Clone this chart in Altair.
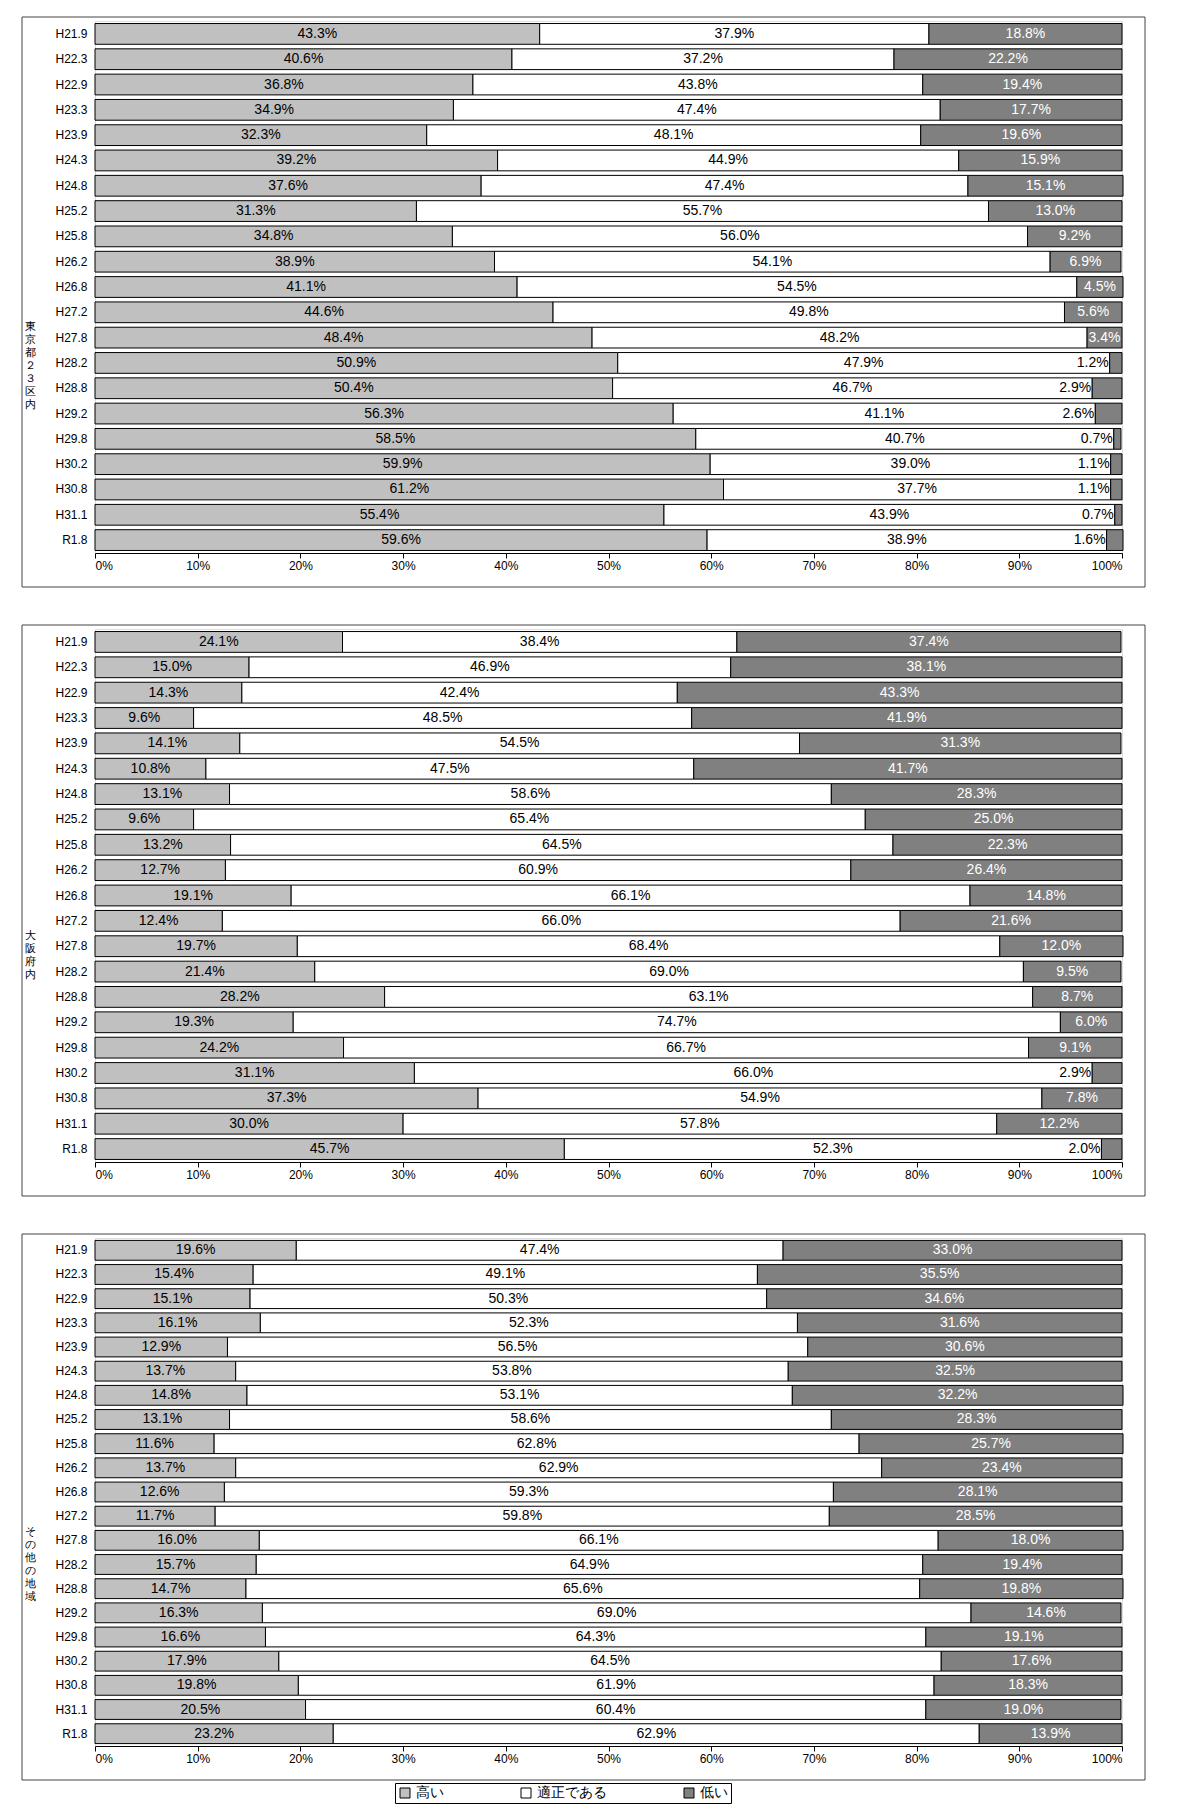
import altair as alt
import pandas as pd

periods = ["H21.9", "H22.3", "H22.9", "H23.3", "H23.9", "H24.3", "H24.8", "H25.2", "H25.8", "H26.2",
           "H26.8", "H27.2", "H27.8", "H28.2", "H28.8", "H29.2", "H29.8", "H30.2", "H30.8", "H31.1", "R1.8"]
cats = ["高い", "適正である", "低い"]

tokyo_high = [43.3, 40.6, 36.8, 34.9, 32.3, 39.2, 37.6, 31.3, 34.8, 38.9, 41.1, 44.6, 48.4, 50.9, 50.4, 56.3, 58.5, 59.9, 61.2, 55.4, 59.6]
tokyo_mid = [37.9, 37.2, 43.8, 47.4, 48.1, 44.9, 47.4, 55.7, 56.0, 54.1, 54.5, 49.8, 48.2, 47.9, 46.7, 41.1, 40.7, 39.0, 37.7, 43.9, 38.9]
tokyo_low = [18.8, 22.2, 19.4, 17.7, 19.6, 15.9, 15.1, 13.0, 9.2, 6.9, 4.5, 5.6, 3.4, 1.2, 2.9, 2.6, 0.7, 1.1, 1.1, 0.7, 1.6]

osaka_high = [24.1, 15.0, 14.3, 9.6, 14.1, 10.8, 13.1, 9.6, 13.2, 12.7, 19.1, 12.4, 19.7, 21.4, 28.2, 19.3, 24.2, 31.1, 37.3, 30.0, 45.7]
osaka_mid = [38.4, 46.9, 42.4, 48.5, 54.5, 47.5, 58.6, 65.4, 64.5, 60.9, 66.1, 66.0, 68.4, 69.0, 63.1, 74.7, 66.7, 66.0, 54.9, 57.8, 52.3]
osaka_low = [37.4, 38.1, 43.3, 41.9, 31.3, 41.7, 28.3, 25.0, 22.3, 26.4, 14.8, 21.6, 12.0, 9.5, 8.7, 6.0, 9.1, 2.9, 7.8, 12.2, 2.0]

other_high = [19.6, 15.4, 15.1, 16.1, 12.9, 13.7, 14.8, 13.1, 11.6, 13.7, 12.6, 11.7, 16.0, 15.7, 14.7, 16.3, 16.6, 17.9, 19.8, 20.5, 23.2]
other_mid = [47.4, 49.1, 50.3, 52.3, 56.5, 53.8, 53.1, 58.6, 62.8, 62.9, 59.3, 59.8, 66.1, 64.9, 65.6, 69.0, 64.3, 64.5, 61.9, 60.4, 62.9]
other_low = [33.0, 35.5, 34.6, 31.6, 30.6, 32.5, 32.2, 28.3, 25.7, 23.4, 28.1, 28.5, 18.0, 19.4, 19.8, 14.6, 19.1, 17.6, 18.3, 19.0, 13.9]

W = 1027


def panel(region, high, mid, low, h, legend):
    rows = []
    for i, p in enumerate(periods):
        for k, (c, v) in enumerate(zip(cats, [high[i], mid[i], low[i]])):
            rows.append({"period": p, "cat": c, "order": k, "v": v})
    df = pd.DataFrame(rows)
    base = alt.Chart(df).transform_stack(
        stack="v", groupby=["period"], as_=["s", "e"], sort=[alt.SortField("order")]
    ).transform_calculate(
        mid="(datum.s + datum.e) / 2",
        lbl="format(datum.v, '.1f') + '%'",
        small="datum.order == 2 && datum.v < 3",
    )
    y = alt.Y("period:N", sort=periods, title=None,
              scale=alt.Scale(paddingInner=0.18, paddingOuter=0.1),
              axis=alt.Axis(labelFontSize=12, ticks=False, domain=False, labelPadding=8))
    leg = alt.Legend(symbolType="square", symbolStrokeColor="black", symbolStrokeWidth=1,
                     labelFontSize=14, orient="none", direction="horizontal",
                     legendX=300, legendY=1762,
                     strokeColor="black", padding=3, columnPadding=75)
    bars = base.mark_bar(stroke="black", strokeWidth=1).encode(
        x=alt.X("s:Q", scale=alt.Scale(domain=[0, 100], nice=False), title=None,
                axis=alt.Axis(values=list(range(0, 101, 10)), labelExpr="datum.value + '%'",
                              grid=False, labelFontSize=12, tickColor="black", domainColor="black")),
        x2="e:Q",
        y=y,
        color=alt.Color("cat:N", sort=cats, title=None,
                        scale=alt.Scale(domain=cats, range=["#c0c0c0", "#ffffff", "#808080"]),
                        legend=leg if legend else None),
    )
    txt = base.transform_filter("!datum.small").mark_text(fontSize=14).encode(
        x="mid:Q", y=alt.Y("period:N", sort=periods),
        text="lbl:N",
        color=alt.condition("datum.order == 2", alt.value("white"), alt.value("black")),
    )
    txt_small = base.transform_filter("datum.small").mark_text(fontSize=14, align="right", dx=-1).encode(
        x="s:Q", y=alt.Y("period:N", sort=periods), text="lbl:N", color=alt.value("black"),
    )
    one = pd.DataFrame({"a": [0]})
    frame = alt.Chart(one).mark_rect(fill=None, stroke="#444", strokeWidth=1).encode(
        x=alt.value(-73), x2=alt.value(W + 23), y=alt.value(-4), y2=alt.value(h + 34))
    name = alt.Chart(one).mark_text(text=list(region), fontSize=11, lineHeight=13, baseline="middle").encode(
        x=alt.value(-65), y=alt.value(h / 2 + 40))
    return (bars + txt + txt_small + frame + name).properties(width=W, height=h)


chart = alt.vconcat(
    panel("東京都２３区内", tokyo_high, tokyo_mid, tokyo_low, 532, True),
    panel("大阪府内", osaka_high, osaka_mid, osaka_low, 533, False),
    panel("その他の地域", other_high, other_mid, other_low, 508, False),
    spacing=36,
).properties(
    padding={"left": 13, "top": 8, "right": 10, "bottom": 10}
).configure_view(stroke=None).configure(font="Liberation Sans")

chart.save("out.html", embed_options={"renderer": "svg", "actions": False})
